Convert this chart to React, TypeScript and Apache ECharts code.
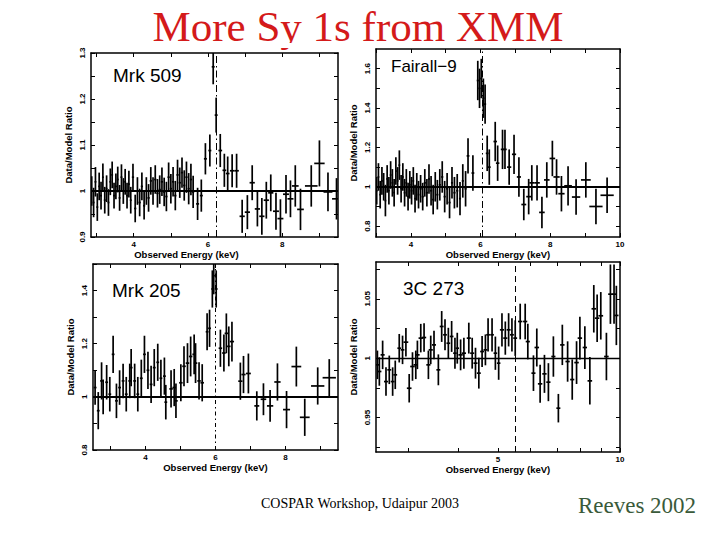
import { useEffect, useRef } from 'react'
import * as echarts from 'echarts'

// each bin: [energy keV, half bin width, data/model ratio, 1-sigma error]
type Bin = [number, number, number, number]

const mrk509: Bin[] = [
  [2.87, 0.025, 1.0, 0.032], [2.92, 0.025, 0.975, 0.032], [2.97, 0.025, 1.02, 0.032],
  [3.02, 0.025, 0.965, 0.03], [3.07, 0.025, 1.01, 0.03], [3.12, 0.025, 0.99, 0.03],
  [3.17, 0.025, 1.03, 0.03], [3.22, 0.025, 0.98, 0.029], [3.27, 0.025, 1.005, 0.029],
  [3.32, 0.025, 0.975, 0.029], [3.37, 0.025, 1.02, 0.029], [3.42, 0.025, 1.035, 0.029],
  [3.47, 0.025, 0.99, 0.028], [3.52, 0.025, 1.01, 0.028], [3.57, 0.025, 1.025, 0.028],
  [3.62, 0.025, 0.985, 0.028], [3.67, 0.025, 1.03, 0.028], [3.72, 0.025, 1.0, 0.028],
  [3.77, 0.025, 1.02, 0.028], [3.82, 0.025, 0.99, 0.028], [3.87, 0.025, 1.015, 0.029],
  [3.92, 0.025, 0.98, 0.029], [3.98, 0.03, 1.03, 0.029], [4.04, 0.03, 0.962, 0.03],
  [4.1, 0.03, 1.0, 0.03], [4.16, 0.03, 0.975, 0.03], [4.22, 0.03, 1.01, 0.03],
  [4.28, 0.03, 0.968, 0.03], [4.34, 0.03, 1.0, 0.03], [4.4, 0.03, 0.985, 0.03],
  [4.46, 0.03, 1.022, 0.03], [4.52, 0.03, 1.0, 0.03], [4.58, 0.03, 1.025, 0.031],
  [4.64, 0.03, 0.995, 0.031], [4.7, 0.03, 1.003, 0.031], [4.76, 0.03, 1.02, 0.031],
  [4.82, 0.03, 0.998, 0.031], [4.88, 0.03, 0.988, 0.032], [4.94, 0.03, 1.03, 0.032],
  [5.0, 0.03, 1.005, 0.032], [5.06, 0.03, 1.02, 0.032], [5.12, 0.03, 0.99, 0.032],
  [5.18, 0.03, 1.035, 0.033], [5.24, 0.03, 1.018, 0.033], [5.3, 0.03, 1.04, 0.033],
  [5.36, 0.03, 1.012, 0.033], [5.42, 0.03, 1.03, 0.034], [5.48, 0.03, 1.005, 0.034],
  [5.54, 0.03, 1.025, 0.034], [5.6, 0.03, 0.998, 0.035], [5.72, 0.04, 0.972, 0.035],
  [5.82, 0.04, 0.99, 0.035], [5.93, 0.04, 1.07, 0.034], [6.05, 0.04, 1.088, 0.035],
  [6.14, 0.04, 1.27, 0.038], [6.22, 0.04, 1.165, 0.038], [6.33, 0.05, 1.088, 0.036],
  [6.44, 0.05, 1.045, 0.036], [6.53, 0.05, 1.038, 0.037], [6.65, 0.06, 1.044, 0.036],
  [6.77, 0.06, 1.044, 0.037], [6.92, 0.07, 0.945, 0.036], [7.06, 0.07, 0.954, 0.037],
  [7.19, 0.07, 1.018, 0.038], [7.33, 0.07, 0.961, 0.038], [7.45, 0.07, 0.945, 0.04],
  [7.57, 0.07, 0.98, 0.04], [7.69, 0.07, 0.996, 0.04], [7.83, 0.08, 0.956, 0.04],
  [7.95, 0.08, 0.94, 0.042], [8.1, 0.08, 0.993, 0.042], [8.22, 0.08, 0.983, 0.04],
  [8.35, 0.09, 1.011, 0.045], [8.49, 0.09, 0.96, 0.045], [8.78, 0.17, 1.011, 0.045],
  [9.0, 0.14, 1.06, 0.05], [9.23, 0.12, 0.998, 0.042], [9.46, 0.12, 0.983, 0.045],
]

const fairall9: Bin[] = [
  [3.02, 0.025, 0.98, 0.07], [3.07, 0.025, 1.05, 0.07], [3.12, 0.025, 0.96, 0.07],
  [3.17, 0.025, 1.03, 0.07], [3.22, 0.025, 1.0, 0.07], [3.27, 0.025, 0.93, 0.08],
  [3.32, 0.025, 1.04, 0.07], [3.37, 0.025, 0.98, 0.07], [3.42, 0.025, 1.06, 0.07],
  [3.47, 0.025, 1.02, 0.07], [3.52, 0.025, 0.97, 0.07], [3.57, 0.025, 1.08, 0.07],
  [3.62, 0.025, 1.03, 0.07], [3.67, 0.025, 1.11, 0.075], [3.72, 0.025, 0.99, 0.07],
  [3.77, 0.025, 1.05, 0.07], [3.82, 0.025, 0.97, 0.07], [3.87, 0.025, 1.02, 0.07],
  [3.92, 0.025, 0.95, 0.07], [3.97, 0.025, 1.01, 0.07], [4.02, 0.025, 0.98, 0.07],
  [4.07, 0.025, 1.03, 0.07], [4.12, 0.025, 0.94, 0.07], [4.17, 0.025, 1.0, 0.07],
  [4.22, 0.025, 0.96, 0.07], [4.28, 0.03, 0.99, 0.07], [4.34, 0.03, 0.95, 0.07],
  [4.4, 0.03, 1.02, 0.07], [4.46, 0.03, 0.97, 0.07], [4.52, 0.03, 1.04, 0.075],
  [4.58, 0.03, 0.98, 0.075], [4.64, 0.03, 0.935, 0.075], [4.7, 0.03, 1.0, 0.075],
  [4.76, 0.03, 0.96, 0.075], [4.83, 0.03, 1.01, 0.08], [4.9, 0.03, 1.05, 0.08],
  [4.97, 0.03, 0.95, 0.08], [5.04, 0.03, 0.99, 0.08], [5.11, 0.03, 0.92, 0.08],
  [5.18, 0.03, 1.02, 0.08], [5.25, 0.03, 0.97, 0.08], [5.33, 0.03, 0.98, 0.085],
  [5.41, 0.03, 0.94, 0.085], [5.49, 0.03, 1.03, 0.085], [5.57, 0.03, 0.99, 0.09],
  [5.64, 0.04, 1.157, 0.09], [5.78, 0.04, 1.07, 0.09], [5.92, 0.03, 1.54, 0.1],
  [5.97, 0.03, 1.5, 0.1], [6.02, 0.03, 1.55, 0.1], [6.08, 0.03, 1.45, 0.1],
  [6.13, 0.03, 1.42, 0.1], [6.19, 0.04, 1.17, 0.09], [6.25, 0.04, 1.1, 0.09],
  [6.42, 0.05, 1.23, 0.1], [6.49, 0.05, 1.12, 0.09], [6.63, 0.05, 1.19, 0.1],
  [6.7, 0.05, 1.19, 0.1], [6.82, 0.06, 1.1, 0.09], [6.96, 0.06, 1.165, 0.1],
  [7.1, 0.06, 1.05, 0.1], [7.24, 0.07, 0.91, 0.08], [7.38, 0.07, 0.95, 0.09],
  [7.47, 0.07, 1.02, 0.09], [7.62, 0.08, 1.02, 0.09], [7.76, 0.08, 0.87, 0.08],
  [7.9, 0.08, 1.035, 0.09], [8.06, 0.08, 1.144, 0.09], [8.18, 0.09, 1.05, 0.09],
  [8.32, 0.09, 0.965, 0.09], [8.51, 0.11, 1.005, 0.1], [8.74, 0.12, 0.948, 0.09],
  [9.02, 0.14, 1.035, 0.09], [9.31, 0.19, 0.9, 0.09], [9.63, 0.19, 0.957, 0.09],
]

const mrk205: Bin[] = [
  [2.56, 0.04, 1.035, 0.065], [2.65, 0.04, 0.948, 0.07], [2.745, 0.04, 1.06, 0.07],
  [2.79, 0.04, 1.0, 0.065], [2.89, 0.04, 1.055, 0.065], [2.98, 0.04, 1.01, 0.065],
  [3.075, 0.04, 1.16, 0.07], [3.17, 0.04, 0.985, 0.065], [3.26, 0.04, 1.035, 0.065],
  [3.36, 0.04, 1.06, 0.065], [3.45, 0.04, 1.01, 0.065], [3.55, 0.04, 1.06, 0.065],
  [3.59, 0.04, 1.11, 0.07], [3.69, 0.04, 1.06, 0.065], [3.78, 0.04, 1.01, 0.065],
  [3.88, 0.04, 1.07, 0.07], [3.97, 0.04, 1.16, 0.07], [4.07, 0.04, 1.1, 0.07],
  [4.16, 0.04, 1.047, 0.07], [4.25, 0.04, 1.11, 0.07], [4.35, 0.04, 1.13, 0.07],
  [4.44, 0.04, 1.07, 0.07], [4.54, 0.04, 1.078, 0.07], [4.58, 0.04, 0.98, 0.065],
  [4.73, 0.05, 1.03, 0.07], [4.82, 0.05, 1.035, 0.07], [4.87, 0.05, 0.985, 0.065],
  [5.01, 0.05, 1.053, 0.07], [5.1, 0.05, 1.115, 0.075], [5.2, 0.05, 1.127, 0.075],
  [5.29, 0.05, 1.152, 0.075], [5.39, 0.05, 1.16, 0.075], [5.43, 0.05, 1.127, 0.075],
  [5.53, 0.05, 1.06, 0.07], [5.62, 0.05, 1.053, 0.07], [5.76, 0.04, 1.245, 0.07],
  [5.83, 0.04, 1.258, 0.07], [5.91, 0.03, 1.406, 0.07], [5.95, 0.03, 1.456, 0.07],
  [6.02, 0.04, 1.406, 0.07], [6.14, 0.05, 1.183, 0.07], [6.24, 0.05, 1.165, 0.07],
  [6.31, 0.05, 1.239, 0.075], [6.38, 0.05, 1.19, 0.075], [6.47, 0.06, 1.208, 0.075],
  [6.71, 0.06, 1.059, 0.07], [6.8, 0.06, 1.084, 0.07], [6.94, 0.07, 1.088, 0.075],
  [7.18, 0.07, 0.966, 0.055], [7.37, 0.08, 0.991, 0.06], [7.56, 0.09, 0.966, 0.06],
  [7.77, 0.09, 1.056, 0.07], [8.03, 0.1, 0.952, 0.07], [8.31, 0.14, 1.114, 0.075],
  [8.55, 0.14, 0.923, 0.07], [8.92, 0.19, 1.041, 0.07], [9.25, 0.19, 1.072, 0.07],
]

const c273: Bin[] = [
  [2.52, 0.03, 0.9944, 0.012], [2.548, 0.03, 0.9888, 0.012], [2.596, 0.03, 1.0028, 0.012],
  [2.646, 0.03, 0.9803, 0.012], [2.696, 0.03, 0.9902, 0.012], [2.748, 0.03, 0.9803, 0.012],
  [2.789, 0.03, 0.986, 0.012], [2.853, 0.03, 1.0084, 0.012], [2.907, 0.03, 1.007, 0.012],
  [2.963, 0.04, 1.0135, 0.012], [3.019, 0.04, 0.9747, 0.012], [3.076, 0.04, 0.993, 0.012],
  [3.134, 0.04, 0.9944, 0.012], [3.163, 0.04, 1.0028, 0.012], [3.224, 0.04, 1.0169, 0.012],
  [3.285, 0.04, 1.0174, 0.012], [3.367, 0.04, 0.9944, 0.012], [3.412, 0.04, 1.007, 0.012],
  [3.476, 0.04, 1.0112, 0.012], [3.563, 0.04, 0.9902, 0.013], [3.631, 0.04, 1.0267, 0.013],
  [3.7, 0.04, 1.0197, 0.013], [3.771, 0.04, 1.0126, 0.013], [3.842, 0.04, 1.0183, 0.013],
  [3.915, 0.04, 1.0042, 0.013], [3.967, 0.04, 1.0084, 0.013], [4.043, 0.05, 1.0028, 0.013],
  [4.119, 0.05, 1.0042, 0.013], [4.236, 0.05, 1.0169, 0.013], [4.318, 0.05, 1.0042, 0.013],
  [4.4, 0.05, 0.9958, 0.013], [4.484, 0.05, 0.9874, 0.013], [4.568, 0.05, 1.0056, 0.013],
  [4.655, 0.05, 1.007, 0.013], [4.726, 0.05, 1.0197, 0.014], [4.834, 0.05, 1.0197, 0.014],
  [4.926, 0.05, 1.0042, 0.014], [5.019, 0.05, 0.9958, 0.014], [5.114, 0.06, 1.0239, 0.014],
  [5.212, 0.06, 1.0169, 0.014], [5.311, 0.06, 1.0239, 0.014], [5.412, 0.06, 1.0197, 0.014],
  [5.514, 0.06, 1.0169, 0.015], [5.672, 0.07, 1.0309, 0.015], [5.835, 0.07, 1.0309, 0.015],
  [5.923, 0.07, 1.014, 0.015], [6.116, 0.07, 0.9874, 0.015], [6.233, 0.08, 1.009, 0.016],
  [6.352, 0.08, 0.9784, 0.016], [6.51, 0.08, 0.9868, 0.016], [6.658, 0.08, 0.9798, 0.016],
  [6.849, 0.08, 1.0014, 0.017], [7.046, 0.08, 0.9579, 0.012], [7.206, 0.09, 1.0112, 0.017],
  [7.426, 0.09, 0.9972, 0.017], [7.623, 0.09, 0.982, 0.017], [7.813, 0.1, 0.9963, 0.018],
  [7.962, 0.1, 1.0169, 0.018], [8.19, 0.1, 1.009, 0.018], [8.426, 0.11, 0.9809, 0.02],
  [8.617, 0.11, 1.0416, 0.02], [8.782, 0.11, 1.0337, 0.02], [8.966, 0.12, 1.0357, 0.02],
  [9.257, 0.12, 1.0014, 0.02], [9.47, 0.12, 1.0539, 0.025], [9.667, 0.12, 1.0539, 0.025],
  [9.795, 0.12, 1.036, 0.025],
]

const panelData = [mrk509, fairall9, mrk205, c273]
const sourceNames = ['Mrk 509', 'Fairall−9', 'Mrk 205', '3C 273']
const ironLine = [6.22, 6.05, 5.98, 5.53]
const xRanges = [[2.85, 9.5], [3, 10], [2.5, 9.5], [2.5, 10]]
const yRanges = [[0.9, 1.3], [0.745, 1.7], [0.8, 1.5], [0.921, 1.081]]
const xTickLabels = [[4, 6, 8], [4, 6, 8, 10], [4, 6, 8], [5, 10]]
const xTicks = [[3, 4, 5, 6, 7, 8, 9], [3, 4, 5, 6, 7, 8, 9, 10], [3, 4, 5, 6, 7, 8, 9], [3, 4, 5, 6, 7, 8, 9, 10]]
const yTickLabels = [[0.9, 1, 1.1, 1.2, 1.3], [0.8, 1, 1.2, 1.4, 1.6], [0.8, 1, 1.2, 1.4], [0.95, 1, 1.05]]
const yTicks = [
  [0.9, 0.95, 1, 1.05, 1.1, 1.15, 1.2, 1.25, 1.3],
  [0.8, 0.9, 1, 1.1, 1.2, 1.3, 1.4, 1.5, 1.6],
  [0.8, 0.9, 1, 1.1, 1.2, 1.3, 1.4, 1.5],
  [0.925, 0.95, 0.975, 1, 1.025, 1.05, 1.075],
]

const grids = [
  { left: 91, top: 53, width: 247, height: 184 },
  { left: 376, top: 49, width: 244, height: 188 },
  { left: 93, top: 264, width: 245, height: 186 },
  { left: 376, top: 262, width: 244, height: 190 },
]
const labelPos = [
  { x: 113, y: 75, size: 19 },
  { x: 391, y: 66, size: 17 },
  { x: 112, y: 290, size: 19 },
  { x: 403, y: 288, size: 19 },
]
// panel 1's energy caption sits left of centre in the original
const xNamePadding = [[0, 56, 0, 0], [0, 0, 0, 0], [0, 0, 0, 0], [0, 0, 0, 0]]
const ironDash = [[7, 3, 1.5, 3], [7, 3, 1.5, 3], [4, 3, 1.5, 3], [6, 4]]
const unityWidth = [2, 2, 2, 1.3]

const tickFont = {
  fontSize: 8,
  fontWeight: 'bold' as const,
  color: '#000',
  fontFamily: 'Liberation Sans, Arial, sans-serif',
}
const nameFont = { ...tickFont, fontSize: 9.5 }
const frame = { show: true, onZero: false, lineStyle: { color: '#000', width: 1.5 } }

function renderErrorBar(_params: any, api: any) {
  const e = api.value(0)
  const de = api.value(1)
  const r = api.value(2)
  const dr = api.value(3)
  const a = api.coord([e - de, r])
  const b = api.coord([e + de, r])
  const top = api.coord([e, r + dr])
  const bottom = api.coord([e, r - dr])
  const style = { stroke: '#000', lineWidth: 1.7 }
  return {
    type: 'group',
    children: [
      { type: 'line', shape: { x1: a[0], y1: a[1], x2: b[0], y2: b[1] }, style },
      { type: 'line', shape: { x1: top[0], y1: top[1], x2: bottom[0], y2: bottom[1] }, style },
    ],
  }
}

export default function App() {
  const chartRef = useRef<HTMLDivElement>(null)

  useEffect(() => {
    if (!chartRef.current) return
    const chart = echarts.init(chartRef.current, null, { renderer: 'svg' })

    const xAxis: any[] = []
    const yAxis: any[] = []
    const series: any[] = []

    panelData.forEach((data, i) => {
      const xBase = {
        type: i === 3 ? 'log' : 'value',
        gridIndex: i,
        min: xRanges[i][0],
        max: xRanges[i][1],
        splitLine: { show: false },
        axisLine: frame,
        axisTick: { inside: true, length: 4, customValues: xTicks[i], lineStyle: { color: '#000', width: 1 } },
      }
      xAxis.push({
        ...xBase,
        position: 'bottom',
        axisLabel: { ...tickFont, margin: 3, customValues: xTickLabels[i] },
        name: 'Observed Energy (keV)',
        nameLocation: 'middle',
        nameGap: 12,
        nameTextStyle: { ...nameFont, padding: xNamePadding[i] },
      })
      xAxis.push({ ...xBase, position: 'top', axisLabel: { show: false } })

      const yBase = {
        type: 'value',
        gridIndex: i,
        min: yRanges[i][0],
        max: yRanges[i][1],
        splitLine: { show: false },
        axisLine: frame,
        axisTick: { inside: true, length: 4, customValues: yTicks[i], lineStyle: { color: '#000', width: 1 } },
      }
      yAxis.push({
        ...yBase,
        position: 'left',
        axisLabel: { ...tickFont, margin: 5, rotate: 90, customValues: yTickLabels[i] },
        name: 'Data/Model Ratio',
        nameLocation: 'middle',
        nameGap: 18,
        nameRotate: 90,
        nameTextStyle: { ...nameFont },
      })
      yAxis.push({ ...yBase, position: 'right', axisLabel: { show: false } })

      series.push({
        type: 'custom',
        xAxisIndex: 2 * i,
        yAxisIndex: 2 * i,
        data,
        encode: { x: 0, y: 2 },
        clip: true,
        silent: true,
        renderItem: renderErrorBar,
        markLine: {
          silent: true,
          symbol: ['none', 'none'],
          label: { show: false },
          emphasis: { disabled: true },
          data: [
            { yAxis: 1, lineStyle: { color: '#000', width: unityWidth[i], type: 'solid' } },
            { xAxis: ironLine[i], lineStyle: { color: '#000', width: 1, type: ironDash[i] } },
          ],
        },
      })
    })

    const graphic: any[] = [
      {
        type: 'text',
        x: 358,
        y: 26,
        style: {
          text: 'More Sy 1s from XMM',
          font: '43px "Liberation Serif", "Times New Roman", serif',
          fill: '#d41a1a',
          textAlign: 'center',
          textVerticalAlign: 'middle',
        },
      },
      { type: 'rect', shape: { x: 140, y: 43, width: 440, height: 5 }, style: { fill: '#fff' }, z: 10 },
      {
        type: 'text',
        x: 360,
        y: 503,
        style: {
          text: 'COSPAR Workshop, Udaipur 2003',
          font: '14px "Liberation Serif", "Times New Roman", serif',
          fill: '#000',
          textAlign: 'center',
          textVerticalAlign: 'middle',
        },
      },
      {
        type: 'text',
        x: 637,
        y: 505,
        style: {
          text: 'Reeves 2002',
          font: '23px "Liberation Serif", "Times New Roman", serif',
          fill: '#3a5a3a',
          textAlign: 'center',
          textVerticalAlign: 'middle',
        },
      },
    ]
    sourceNames.forEach((name, i) => {
      graphic.push({
        type: 'text',
        x: labelPos[i].x,
        y: labelPos[i].y,
        style: {
          text: name,
          font: `${labelPos[i].size}px "Liberation Sans", Arial, sans-serif`,
          fill: '#000',
          textVerticalAlign: 'middle',
        },
      })
    })

    chart.setOption({
      animation: false,
      backgroundColor: '#fff',
      grid: grids.map(g => ({ ...g, containLabel: false })),
      xAxis,
      yAxis,
      series,
      graphic,
    })

    return () => {
      chart.dispose()
    }
  }, [])

  return (
    <div
      ref={chartRef}
      style={{ position: 'absolute', left: 0, top: 0, width: '720px', height: '540px', background: '#fff' }}
    />
  )
}
